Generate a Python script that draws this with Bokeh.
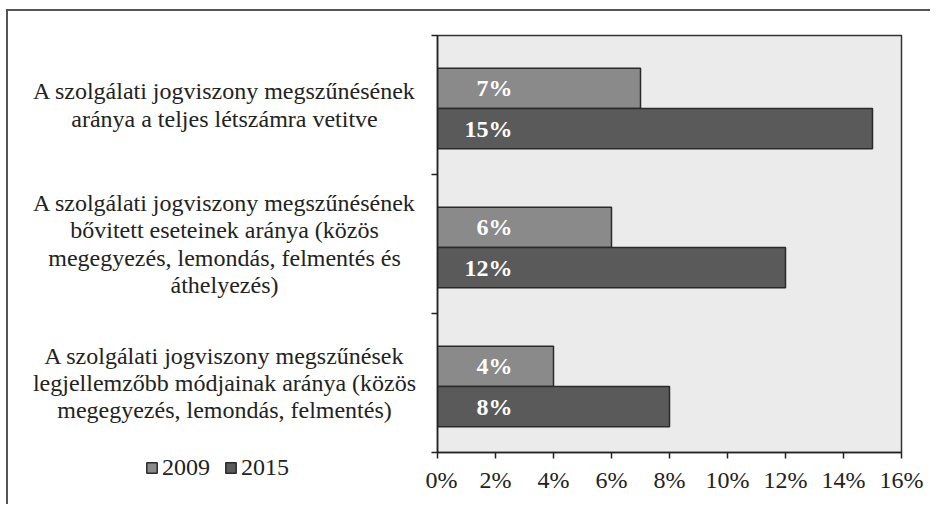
from bokeh.plotting import figure
from bokeh.layouts import row, column
from bokeh.models import (ColumnDataSource, Range1d, FixedTicker, NumeralTickFormatter,
                          Legend, LegendItem)
from bokeh.core.properties import value
from bokeh.embed import file_html
from bokeh.resources import INLINE

categories = [
    "A szolgálati jogviszony megszűnésének\naránya a teljes létszámra vetitve",
    "A szolgálati jogviszony megszűnésének\nbővitett eseteinek aránya (közös\nmegegyezés, lemondás, felmentés és\náthelyezés)",
    "A szolgálati jogviszony megszűnések\nlegjellemzőbb módjainak aránya (közös\nmegegyezés, lemondás, felmentés)",
]
series_names = ["2009", "2015"]
values_2009 = [0.07, 0.06, 0.04]
values_2015 = [0.15, 0.12, 0.08]
x_ticks = [0, 0.02, 0.04, 0.06, 0.08, 0.10, 0.12, 0.14, 0.16]

FONT = "'Liberation Serif', 'Times New Roman', serif"
COL09, COL15, EDGE = "#8a8a8a", "#5a5a5a", "#2a2a2a"
n = len(categories)
centers = [n - i - 0.5 for i in range(n)]
bar_h = 0.29

src09 = ColumnDataSource(dict(
    y=[c + 0.12 for c in centers], right=values_2009,
    left=[0] * n, lab=[f"{round(v * 100)}%" for v in values_2009]))
src15 = ColumnDataSource(dict(
    y=[c - 0.17 for c in centers], right=values_2015,
    left=[0] * n, lab=[f"{round(v * 100)}%" for v in values_2015]))

# layout geometry (pixels)
FIG_H, TOP, BOT = 493, 24, 52

# ---------------- chart (right) ----------------
p = figure(width=505, height=FIG_H, output_backend="svg", toolbar_location=None,
           x_range=Range1d(0, 0.16), y_range=Range1d(0, n),
           min_border_left=12, min_border_top=TOP, min_border_right=29,
           min_border_bottom=BOT)
p.background_fill_color = "#ebebeb"
p.border_fill_color = "white"
p.outline_line_color = "#333333"
p.outline_line_width = 1.5
p.xgrid.visible = False
p.ygrid.visible = False

p.hbar(y="y", left="left", right="right", height=bar_h, source=src09,
       fill_color=COL09, line_color=EDGE, line_width=1.5)
p.hbar(y="y", left="left", right="right", height=bar_h, source=src15,
       fill_color=COL15, line_color=EDGE, line_width=1.5)

for s in (src09, src15):
    p.text(x="left", y="y", text="lab", source=s, x_offset=75,
           text_align="right", text_baseline="middle",
           text_font=value(FONT), text_font_style="bold",
           text_font_size="24px", text_color="white")

p.xaxis.ticker = FixedTicker(ticks=x_ticks)
p.xaxis.formatter = NumeralTickFormatter(format="0%")
p.xaxis.major_label_text_font = FONT
p.xaxis.major_label_text_font_size = "24px"
p.xaxis.major_label_text_color = "#222222"
p.xaxis.major_tick_in = 0
p.xaxis.major_tick_out = 6
p.xaxis.minor_tick_line_color = None
p.xaxis.axis_line_color = "#222222"
p.xaxis.axis_line_width = 1.5
p.xaxis.major_tick_line_color = "#222222"
p.xaxis.major_tick_line_width = 1.5
p.xaxis.major_label_standoff = 8

p.yaxis.ticker = FixedTicker(ticks=list(range(n + 1)))
p.yaxis.major_label_overrides = {i: "" for i in range(n + 1)}
p.yaxis.major_label_standoff = 0
p.yaxis.major_tick_in = 0
p.yaxis.major_tick_out = 6
p.yaxis.minor_tick_line_color = None
p.yaxis.axis_line_color = "#222222"
p.yaxis.axis_line_width = 1.5
p.yaxis.major_tick_line_color = "#222222"
p.yaxis.major_tick_line_width = 1.5

# ---------------- category labels + legend (left) ----------------
unit_px = (FIG_H - TOP - BOT) / n
q = figure(width=417, height=FIG_H, output_backend="svg", toolbar_location=None,
           x_range=Range1d(0, 1),
           y_range=Range1d(-BOT / unit_px, n + TOP / unit_px),
           x_axis_type=None, y_axis_type=None, min_border=0,
           min_border_left=0, min_border_right=0,
           min_border_top=0, min_border_bottom=0)
q.grid.visible = False
q.outline_line_color = None
q.background_fill_color = "white"
q.border_fill_color = "white"

lab_src = ColumnDataSource(dict(x=[0.518] * n, y=centers, text=categories))
q.text(x="x", y="y", text="text", source=lab_src,
       text_align="center", text_baseline="middle",
       text_font=value(FONT), text_font_size="24px",
       text_color="#222222", text_line_height=1.05)

# legend swatches (styled like the bars, kept outside the visible range)
k09 = q.hbar(y=[-50], left=[0], right=[0], height=bar_h,
             fill_color=COL09, line_color=EDGE, line_width=1.5)
k15 = q.hbar(y=[-50], left=[0], right=[0], height=bar_h,
             fill_color=COL15, line_color=EDGE, line_width=1.5)
legend = Legend(items=[LegendItem(label=series_names[0], renderers=[k09]),
                       LegendItem(label=series_names[1], renderers=[k15])],
                orientation="horizontal", location=(137, 23),
                label_text_font=FONT, label_text_font_size="24px",
                label_text_color="#222222", glyph_width=13, glyph_height=13,
                label_standoff=4, spacing=14, padding=0, margin=0,
                border_line_color=None, background_fill_alpha=0)
q.add_layout(legend, "center")

layout = row(column(q), p)
layout.styles = {"border-top": "2px solid #555", "border-left": "2px solid #555",
                 "margin-left": "6px", "margin-top": "9px"}

open("out.html", "w").write(file_html(layout, INLINE))
